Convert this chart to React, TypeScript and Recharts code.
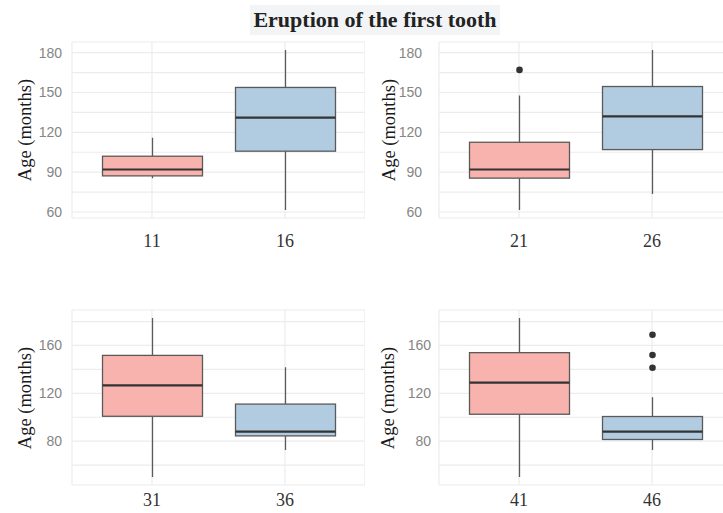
import React from 'react';
import { ComposedChart, Bar, XAxis, YAxis, CartesianGrid } from 'recharts';

// Box statistics, one entry per tooth
const TEETH = ['11', '16', '21', '26', '31', '36', '41', '46'];
const WHISKER_LOW = [85.5, 61.5, 61.5, 73.5, 50, 72.7, 50, 72.7];
const Q1 = [87.2, 105.8, 85.5, 107, 100.8, 84.4, 102.5, 81.4];
const MEDIAN = [92, 131, 92, 132, 126.7, 88, 129, 88];
const Q3 = [102, 153.8, 112.5, 154.5, 151.7, 111, 154, 100.6];
const WHISKER_HIGH = [116, 182, 147.8, 182, 183, 141.7, 183, 116.7];
const OUTLIERS: number[][] = [[], [], [167], [], [], [], [], [169, 152, 141.4]];

// Y ticks: labelled ones and minor grid lines
const TOP_TICKS = [60, 90, 120, 150, 180];
const TOP_MINOR = [75, 105, 135, 165];
const BOTTOM_TICKS = [80, 120, 160];
const BOTTOM_MINOR = [60, 100, 140, 180];

const TITLE = 'Eruption of the first tooth';
const Y_LABEL = 'Age (months)';

const SERIF = '"Liberation Serif", "DejaVu Serif", serif';
const SANS = '"Liberation Sans", Arial, sans-serif';
const FILLS = ['#f8b3ae', '#b1cce1'];
const PLOT_W = 293;

function buildRows(indices: number[]) {
  return indices.map((i) => ({
    tooth: TEETH[i],
    low: WHISKER_LOW[i],
    q1: Q1[i],
    median: MEDIAN[i],
    q3: Q3[i],
    high: WHISKER_HIGH[i],
    outliers: OUTLIERS[i],
    range: [WHISKER_LOW[i], WHISKER_HIGH[i]]
  }));
}

// Draws the whole box from the range bar the library places
function BoxShape(props: any) {
  const { x, y, width, height, payload, index } = props;
  if (!payload) return null;
  const top = Math.min(y, y + height);
  const h = Math.abs(height);
  const span = payload.high - payload.low;
  const k = span > 0 ? h / span : 0;
  const py = (v: number) => top + (payload.high - v) * k;
  const cx = x + width / 2;
  const fill = FILLS[(index ?? 0) % 2];
  return (
    <g>
      <line x1={cx} x2={cx} y1={py(payload.high)} y2={py(payload.q3)} stroke="#5a5a5a" strokeWidth={1.3} />
      <line x1={cx} x2={cx} y1={py(payload.q1)} y2={py(payload.low)} stroke="#5a5a5a" strokeWidth={1.3} />
      <rect
        x={x}
        y={py(payload.q3)}
        width={width}
        height={py(payload.q1) - py(payload.q3)}
        fill={fill}
        stroke="#5a5a5a"
        strokeWidth={1.3}
      />
      <line x1={x} x2={x + width} y1={py(payload.median)} y2={py(payload.median)} stroke="#333" strokeWidth={2.2} />
      {payload.outliers.map((v: number, j: number) => (
        <circle key={j} cx={cx} cy={py(v)} r={3.3} fill="#333" />
      ))}
    </g>
  );
}

interface PanelProps {
  indices: number[];
  left: number;
  top: number;
  height: number;
  marginTop: number;
  plotH: number;
  yWidth: number;
  yTicks: number[];
  yMinor: number[];
  yTickMargin: number;
  xTickMargin: number;
  labelX: number;
}

function Panel(p: PanelProps) {
  const rows = buildRows(p.indices);
  const vals = rows.flatMap((r) => [r.low, r.high, ...r.outliers]);
  const lo = Math.min(...vals);
  const hi = Math.max(...vals);
  const pad = (hi - lo) * 0.05;
  const ticks = [...p.yTicks, ...p.yMinor].sort((a, b) => a - b);
  const width = p.yWidth + PLOT_W;

  return (
    <div style={{ position: 'absolute', left: p.left, top: p.top, width, height: p.height }}>
      <ComposedChart
        width={width}
        height={p.height}
        data={rows}
        margin={{ top: p.marginTop, right: 0, bottom: 0, left: 0 }}
      >
        <CartesianGrid stroke="#ececec" strokeWidth={1.2} />
        <XAxis
          dataKey="tooth"
          type="category"
          height={p.height - p.marginTop - p.plotH}
          padding={{ left: 13.5, right: 13.5 }}
          axisLine={false}
          tickLine={false}
          tickMargin={p.xTickMargin}
          tick={{ fill: '#333', fontSize: 18, fontFamily: SERIF }}
        />
        <YAxis
          type="number"
          width={p.yWidth}
          domain={[lo - pad, hi + pad]}
          ticks={ticks}
          interval={0}
          allowDataOverflow
          axisLine={false}
          tickLine={false}
          tickMargin={p.yTickMargin}
          tickFormatter={(v: number) => (p.yTicks.includes(v) ? String(v) : '')}
          tick={{ fill: '#858585', fontSize: 14, fontFamily: SANS }}
        />
        <Bar dataKey="range" barSize={100} shape={<BoxShape />} isAnimationActive={false} />
      </ComposedChart>
      <div
        style={{
          position: 'absolute',
          left: p.labelX - 70,
          top: p.marginTop + p.plotH / 2 - 12,
          width: 140,
          height: 24,
          lineHeight: '24px',
          textAlign: 'center',
          transform: 'rotate(-90deg)',
          fontFamily: SERIF,
          fontSize: 18.5,
          color: '#1a1a1a',
          whiteSpace: 'nowrap'
        }}
      >
        {Y_LABEL}
      </div>
    </div>
  );
}

export default function App() {
  return (
    <div
      style={{
        position: 'absolute',
        left: 0,
        top: 0,
        width: 723,
        height: 513,
        overflow: 'hidden',
        background: '#fff'
      }}
    >
      <Panel indices={[0, 1]} left={0} top={0} height={260} marginTop={42} plotH={176} yWidth={72}
        yTicks={TOP_TICKS} yMinor={TOP_MINOR} yTickMargin={4} xTickMargin={10} labelX={25} />
      <Panel indices={[2, 3]} left={366} top={0} height={260} marginTop={42} plotH={176} yWidth={73}
        yTicks={TOP_TICKS} yMinor={TOP_MINOR} yTickMargin={11} xTickMargin={10} labelX={23} />
      <Panel indices={[4, 5]} left={0} top={260} height={253} marginTop={50} plotH={175} yWidth={72}
        yTicks={BOTTOM_TICKS} yMinor={BOTTOM_MINOR} yTickMargin={4} xTickMargin={2} labelX={25} />
      <Panel indices={[6, 7]} left={366} top={260} height={253} marginTop={50} plotH={175} yWidth={73}
        yTicks={BOTTOM_TICKS} yMinor={BOTTOM_MINOR} yTickMargin={2} xTickMargin={2} labelX={22} />
      <div
        style={{
          position: 'absolute',
          left: 250,
          top: 5,
          width: 250,
          height: 30,
          lineHeight: '30px',
          background: '#f3f4f6',
          textAlign: 'center',
          fontFamily: SERIF,
          fontWeight: 'bold',
          fontSize: 22,
          color: '#222',
          whiteSpace: 'nowrap'
        }}
      >
        {TITLE}
      </div>
    </div>
  );
}
